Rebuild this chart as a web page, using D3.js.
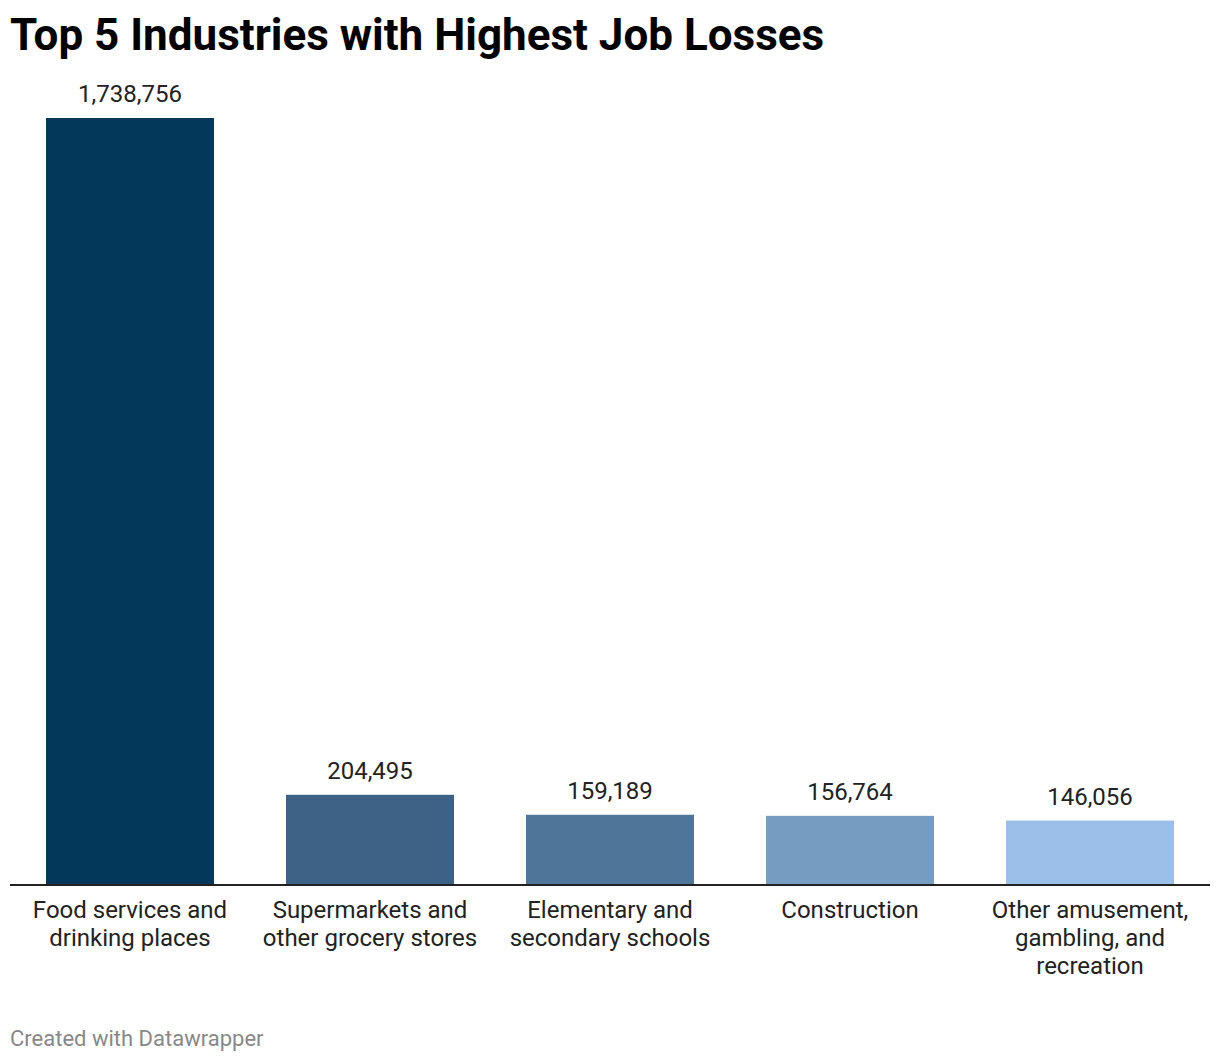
<!DOCTYPE html>
<html>
<head>
<meta charset="utf-8">
<script src="https://cdn.jsdelivr.net/npm/d3@7"></script>
<style>
  html, body { margin: 0; padding: 0; background: #fff; }
  svg { display: block; }
  text { font-family: Roboto, "Noto Sans", sans-serif; }
</style>
</head>
<body>
<svg id="chart" width="1220" height="1062"></svg>
<script>
const categories = [
  ["Food services and", "drinking places"],
  ["Supermarkets and", "other grocery stores"],
  ["Elementary and", "secondary schools"],
  ["Construction"],
  ["Other amusement,", "gambling, and", "recreation"]
];
const values = [1738756, 204495, 159189, 156764, 146056];
const colors = ["#03385a", "#3d6286", "#4f7599", "#779cc2", "#9bbfe8"];

const svg = d3.select("#chart");
const left = 10, right = 1210, baseY = 885, topY = 118;

svg.append("text")
  .attr("x", 10).attr("y", 50)
  .attr("font-size", 44).attr("font-weight", 700).attr("fill", "#000")
  .text("Top 5 Industries with Highest Job Losses");

const x = d3.scaleBand()
  .domain(d3.range(values.length))
  .range([left, right])
  .paddingInner(0.3).paddingOuter(0.15);

const y = d3.scaleLinear()
  .domain([0, d3.max(values)])
  .range([baseY, topY]);

svg.selectAll("rect.bar").data(values).join("rect")
  .attr("class", "bar")
  .attr("x", (d, i) => x(i))
  .attr("width", x.bandwidth())
  .attr("y", d => y(d))
  .attr("height", d => baseY - y(d))
  .attr("fill", (d, i) => colors[i]);

svg.selectAll("text.val").data(values).join("text")
  .attr("class", "val")
  .attr("x", (d, i) => x(i) + x.bandwidth() / 2)
  .attr("y", d => y(d) - 16)
  .attr("text-anchor", "middle")
  .attr("font-size", 24).attr("fill", "#222")
  .text(d => d3.format(",")(d));

svg.append("line")
  .attr("x1", left).attr("x2", right)
  .attr("y1", baseY).attr("y2", baseY)
  .attr("stroke", "#222").attr("stroke-width", 2);

const lab = svg.selectAll("text.cat").data(categories).join("text")
  .attr("class", "cat")
  .attr("text-anchor", "middle")
  .attr("font-size", 24).attr("fill", "#222");
lab.each(function(lines, i) {
  const t = d3.select(this);
  lines.forEach((ln, j) => {
    t.append("tspan")
      .attr("x", x(i) + x.bandwidth() / 2)
      .attr("y", 918 + j * 28)
      .text(ln);
  });
});

svg.append("text")
  .attr("x", 10).attr("y", 1046)
  .attr("font-size", 22).attr("fill", "#888")
  .text("Created with Datawrapper");
</script>
</body>
</html>
